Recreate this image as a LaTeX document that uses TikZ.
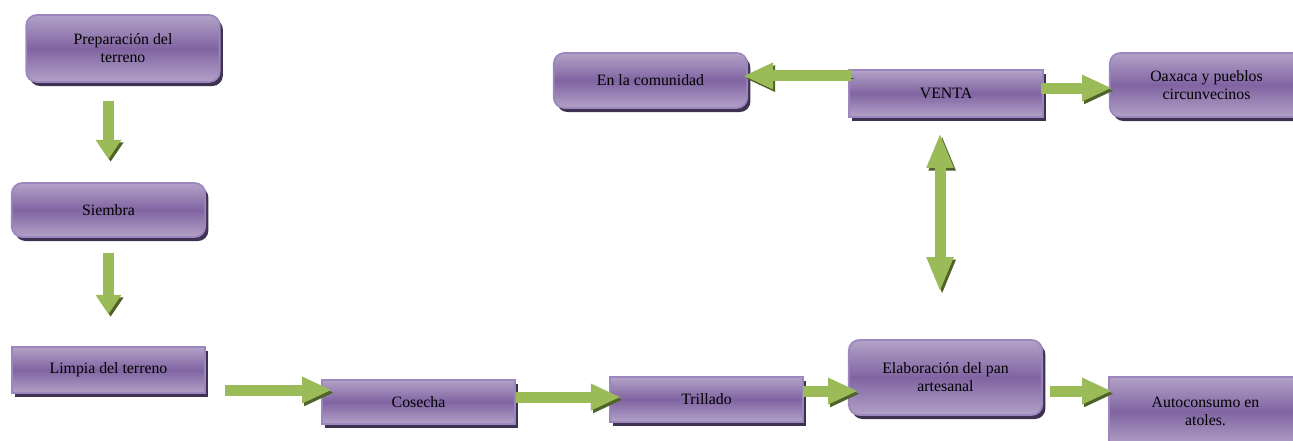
\documentclass[tikz,border=0pt]{standalone}
\usepackage{fontspec}
\setmainfont{Liberation Serif}
\usetikzlibrary{arrows.meta,shadows}
\definecolor{lila}{HTML}{B3A2C7}
\definecolor{morado}{HTML}{8064A2}
\definecolor{borde}{HTML}{9B87BD}
\definecolor{sombra}{HTML}{3F3151}
\definecolor{verde}{HTML}{9BBB59}
\definecolor{verdeosc}{HTML}{4F6228}
\tikzset{
  caja/.style={draw=borde, line width=1pt, top color=lila, bottom color=lila,
    middle color=morado, minimum width=3.87cm, inner sep=2pt, align=center,
    font=\fontsize{9}{10.3}\selectfont,
    general shadow={fill=sombra, shadow xshift=1.8pt, shadow yshift=-2.3pt}},
  cajar/.style={caja, rounded corners=6pt},
  flecha/.style={line width=6.3pt, draw=verde, -{Triangle[length=#1, width=14pt]},
    preaction={draw=verdeosc, transform canvas={xshift=1.2pt, yshift=-1.5pt}}},
  flecha/.default=17pt,
}
\begin{document}
\begin{tikzpicture}[x=0.02cm, y=-0.02cm]
    \useasboundingbox (0,0) rectangle (1293,440);
    \clip (0,0) rectangle (1293,440);

    % columna izquierda
    \node[cajar, minimum height=1.34cm] (prep) at (123,48.5) {Preparación del\\terreno};
    \node[cajar, minimum height=1.08cm] (siembra) at (108.5,210) {Siembra};
    \node[caja, minimum height=0.92cm] (limpia) at (108.5,370) {Limpia del terreno};

    % fila de abajo
    \node[caja, minimum height=0.88cm] (cosecha) at (418.5,402) {Cosecha};
    \node[caja, minimum height=0.9cm] (trillado) at (706.5,399.5) {Trillado};
    \node[cajar, minimum height=1.5cm] (elab) at (945.5,377.5) {Elaboración del pan\\artesanal};
    \node[caja, minimum height=1.38cm] (auto) at (1205.5,411.5) {Autoconsumo en\\atoles.};

    % fila de arriba
    \node[cajar, minimum height=1.1cm] (comunidad) at (650.5,80.5) {En la comunidad};
    \node[caja, minimum height=0.94cm] (venta) at (946,93.5) {VENTA};
    \node[cajar, minimum height=1.28cm] (oaxaca) at (1206.5,85) {Oaxaca y pueblos\\circunvecinos};

    % flechas
    \draw[flecha=11pt, shorten <=10.2pt, shorten >=13.1pt] (prep.south -| siembra.north) -- (siembra.north);
    \draw[flecha=11pt, shorten <=8.5pt, shorten >=18.2pt] (siembra.south) -- (limpia.north);
    \draw[flecha, shorten >=-6.3pt] ([xshift=10.8pt, yshift=-11.4pt]limpia.east) coordinate (l1) -- (l1 -| cosecha.west);
    \draw[flecha, shorten >=-6.8pt] ([yshift=2.8pt]cosecha.east) coordinate (c1) -- (c1 -| trillado.west);
    \draw[flecha, shorten >=-5.7pt] ([xshift=-0.5pt, yshift=4.8pt]trillado.east) coordinate (t1) -- (t1 -| elab.west);
    \draw[flecha, shorten >=-2.3pt] ([xshift=4pt, yshift=-7.7pt]elab.east) coordinate (e1) -- (e1 -| auto.west);
    \draw[flecha, shorten >=-2.8pt] ([xshift=1.7pt, yshift=10pt]venta.west) coordinate (v1) -- (v1 -| comunidad.east);
    \draw[flecha, shorten >=-1.7pt] ([xshift=-1.7pt, yshift=3.1pt]venta.east) coordinate (v2) -- (v2 -| oaxaca.west);
    \draw[flecha, {Triangle[length=20pt, width=14pt]}-{Triangle[length=20pt, width=14pt]},
      shorten <=8.5pt, shorten >=26.7pt] ([xshift=-3.4pt]venta.south) coordinate (v3) -- (v3 |- elab.north);
\end{tikzpicture}
\end{document}
